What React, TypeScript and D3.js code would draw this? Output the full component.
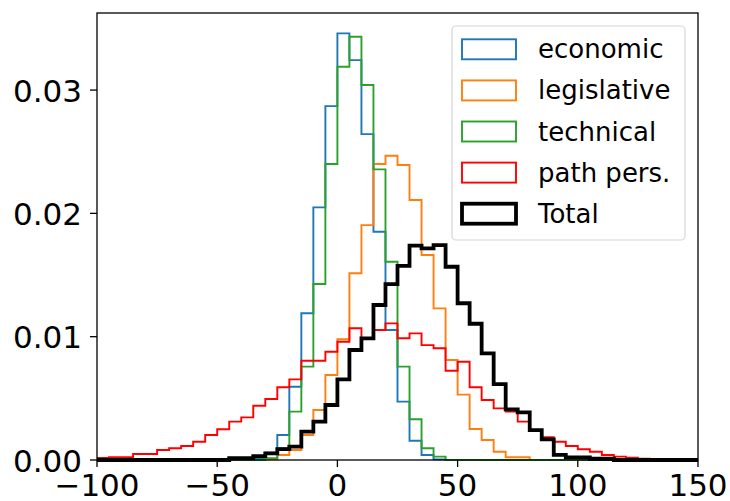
import React, { useEffect, useRef } from "react";
import * as d3 from "d3";

// histogram bins: left edges from -100 to 145, width 5
const binEdges = d3.range(-100, 151, 5);
const series = ["economic", "legislative", "technical", "path pers.", "Total"];
const colors = ["#1f77b4", "#ff7f0e", "#2ca02c", "#ff0000", "#000000"];
const xTicks = [-100, -50, 0, 50, 100, 150];
const yTicks = [0, 0.01, 0.02, 0.03];

// densities per bin (50 bins)
const economic = [
  0, 0, 0, 0, 0, 0, 0, 0, 0, 0,
  0, 0, 0, 0.00008, 0.00059, 0.00203, 0.00594, 0.0119, 0.02049, 0.0287,
  0.0346, 0.03243, 0.02643, 0.01851, 0.01054, 0.00473, 0.00156, 0.0004, 0.00005, 0,
  0, 0, 0, 0, 0, 0, 0, 0, 0, 0,
  0, 0, 0, 0, 0, 0, 0, 0, 0, 0,
];
const legislative = [
  0, 0, 0, 0, 0, 0, 0, 0, 0, 0,
  0, 0, 0, 0, 0.00005, 0.0004, 0.00081, 0.00203, 0.00405, 0.00689,
  0.00979, 0.01514, 0.01905, 0.024, 0.02467, 0.02392, 0.02108, 0.01662, 0.0123, 0.00811,
  0.0053, 0.00251, 0.00162, 0.00067, 0.00022, 0.00022, 0, 0, 0, 0,
  0, 0, 0, 0, 0, 0, 0, 0, 0, 0,
];
const technical = [
  0, 0, 0, 0, 0, 0, 0, 0, 0, 0,
  0, 0, 0, 0, 0.00015, 0.00095, 0.00392, 0.00757, 0.01427, 0.024,
  0.03189, 0.03432, 0.03041, 0.02357, 0.01608, 0.00757, 0.0033, 0.00095, 0.00027, 0,
  0, 0, 0, 0, 0, 0, 0, 0, 0, 0,
  0, 0, 0, 0, 0, 0, 0, 0, 0, 0,
];
const pathPers = [
  0.00016, 0.00022, 0.00022, 0.00049, 0.00049, 0.00081, 0.00095, 0.00114, 0.00148, 0.00203,
  0.00249, 0.00311, 0.00346, 0.0044, 0.00495, 0.0059, 0.00654, 0.00805, 0.00805, 0.00878,
  0.00959, 0.01068, 0.00987, 0.01054, 0.01108, 0.00987, 0.01027, 0.00932, 0.00906, 0.00724,
  0.00797, 0.0059, 0.00486, 0.00419, 0.00392, 0.00311, 0.00243, 0.00184, 0.00148, 0.00114,
  0.00087, 0.00067, 0.00041, 0.00027, 0.00019, 0.0001, 0.00004, 0.00004, 0.00008, 0,
];
const total = [
  0, 0, 0, 0, 0, 0, 0, 0, 0, 0,
  0, 0.00014, 0.00014, 0.00032, 0.00054, 0.00089, 0.00108, 0.0023, 0.00311, 0.00446,
  0.00654, 0.00892, 0.00987, 0.01257, 0.01427, 0.01575, 0.01738, 0.01716, 0.01743, 0.01567,
  0.01271, 0.01105, 0.00865, 0.00616, 0.00411, 0.00387, 0.00243, 0.00168, 0.00041, 0.00022,
  0.00022, 0.0001, 0.0001, 0, 0, 0, 0, 0, 0, 0,
];

const allValues = [economic, legislative, technical, pathPers, total];

export default function App() {
  const svgRef = useRef<SVGSVGElement>(null);
  const width = 730;
  const height = 501;
  const left = 97, right = 698, top = 13, bottom = 460;

  useEffect(() => {
    const svg = d3.select(svgRef.current);
    svg.selectAll("*").remove();

    const x = d3.scaleLinear().domain([-100, 150]).range([left, right]);
    const y = d3.scaleLinear().domain([0, 0.03625]).range([bottom, top]);

    svg.append("defs").append("clipPath").attr("id", "plotclip")
      .append("rect")
      .attr("x", left).attr("y", top - 2)
      .attr("width", right - left).attr("height", bottom - top + 4);

    const line = d3.line<[number, number]>()
      .x(d => x(d[0]))
      .y(d => y(d[1]))
      .curve(d3.curveStepAfter);

    const g = svg.append("g").attr("clip-path", "url(#plotclip)");
    allValues.forEach((vals, i) => {
      const pts: [number, number][] = [[binEdges[0], 0]];
      vals.forEach((v, j) => pts.push([binEdges[j], v]));
      pts.push([binEdges[binEdges.length - 1], vals[vals.length - 1]]);
      pts.push([binEdges[binEdges.length - 1], 0]);
      g.append("path")
        .attr("d", line(pts))
        .attr("fill", "none")
        .attr("stroke", colors[i])
        .attr("stroke-width", i === 4 ? 3.8 : 1.9)
        .attr("stroke-linejoin", "miter");
    });

    // frame
    svg.append("rect")
      .attr("x", left).attr("y", top)
      .attr("width", right - left).attr("height", bottom - top)
      .attr("fill", "none").attr("stroke", "#000").attr("stroke-width", 1.3);

    // x axis
    const xa = svg.append("g");
    xTicks.forEach(t => {
      xa.append("line")
        .attr("x1", x(t)).attr("x2", x(t))
        .attr("y1", bottom).attr("y2", bottom + 7)
        .attr("stroke", "#000").attr("stroke-width", 1.3);
      xa.append("text")
        .attr("x", x(t)).attr("y", bottom + 36)
        .attr("text-anchor", "middle")
        .attr("font-family", "DejaVu Sans")
        .attr("font-size", 31)
        .text(d3.format("")(t).replace("-", "\u2212"));
    });

    // y axis
    const ya = svg.append("g");
    yTicks.forEach(t => {
      ya.append("line")
        .attr("x1", left - 7).attr("x2", left)
        .attr("y1", y(t)).attr("y2", y(t))
        .attr("stroke", "#000").attr("stroke-width", 1.3);
      ya.append("text")
        .attr("x", left - 15).attr("y", y(t) + 11.5)
        .attr("text-anchor", "end")
        .attr("font-family", "DejaVu Sans")
        .attr("font-size", 31)
        .text(d3.format(".2f")(t));
    });

    // legend
    const lg = svg.append("g");
    lg.append("rect")
      .attr("x", 452).attr("y", 26)
      .attr("width", 233).attr("height", 214)
      .attr("rx", 4)
      .attr("fill", "#fff").attr("fill-opacity", 0.8)
      .attr("stroke", "#d6d6d6").attr("stroke-width", 1.2);
    series.forEach((name, i) => {
      const cy = 49.3 + i * 41.1;
      lg.append("rect")
        .attr("x", 462).attr("y", cy - 10)
        .attr("width", 54).attr("height", 20)
        .attr("fill", "none")
        .attr("stroke", colors[i])
        .attr("stroke-width", i === 4 ? 3.8 : 1.9);
      lg.append("text")
        .attr("x", 538).attr("y", cy + 9)
        .attr("font-family", "DejaVu Sans")
        .attr("font-size", 26)
        .attr("fill", "#000")
        .text(name);
    });
  }, []);

  return (
    <div style={{ position: "absolute", left: 0, top: 0 }}>
      <svg ref={svgRef} width={width} height={height} style={{ display: "block", background: "#fff" }} />
    </div>
  );
}
